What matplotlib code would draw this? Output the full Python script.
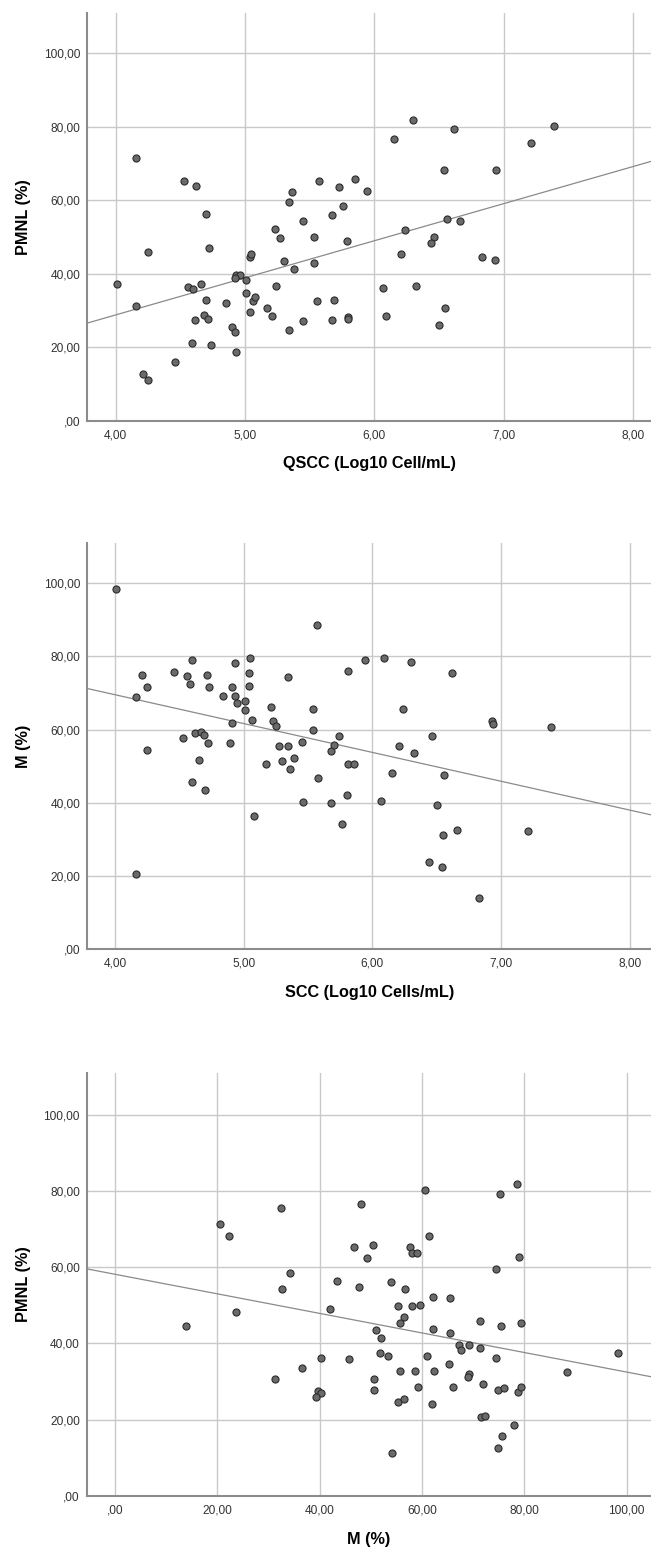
import numpy as np
import matplotlib
matplotlib.use("Agg")
import matplotlib.pyplot as plt

plt.rcParams['font.family'] = ['Liberation Sans', 'DejaVu Sans']

# Panel 1: QSCC vs PMNL
qscc = [4.16, 4.53, 4.62, 4.70, 4.72, 4.25, 4.01, 4.16, 4.56, 4.60, 4.66, 4.70, 4.68, 4.71,
        4.61, 4.59, 4.74, 4.46, 4.21, 4.25, 4.85, 4.90, 4.92, 4.93, 4.93, 4.96, 4.92, 5.01,
        5.01, 5.06, 5.08, 5.04, 5.04, 5.05, 5.17, 5.21, 5.24, 5.23, 5.27, 5.30, 5.38, 5.34,
        5.36, 5.34, 5.45, 5.45, 5.53, 5.53, 5.57, 5.56, 5.67, 5.67, 5.69, 5.73, 5.76, 5.79,
        5.80, 5.80, 5.85, 5.94, 6.15, 6.30, 6.62, 6.54, 6.94, 7.21, 7.39, 6.56, 6.66, 6.24,
        6.46, 6.44, 6.21, 6.83, 6.93, 6.07, 6.32, 6.55, 6.09, 6.50]
pmnl_1 = [71.4, 65.3, 63.8, 56.4, 47.0, 45.8, 37.3, 31.2, 36.3, 35.9, 37.3, 32.8, 28.7, 27.8,
          27.4, 21.1, 20.6, 15.9, 12.6, 11.2, 32.1, 25.4, 24.1, 18.6, 39.8, 39.6, 38.8, 38.3,
          34.7, 32.7, 33.7, 29.5, 44.5, 45.4, 30.6, 28.6, 36.7, 52.2, 49.8, 43.4, 41.4, 59.5,
          62.3, 24.7, 54.4, 27.1, 50.1, 42.8, 65.2, 32.7, 56.0, 27.5, 32.8, 63.7, 58.5, 49.0,
          28.3, 27.8, 65.8, 62.6, 76.7, 81.9, 79.4, 68.3, 68.3, 75.6, 80.3, 54.9, 54.3, 52.0,
          49.9, 48.3, 45.3, 44.6, 43.7, 36.1, 36.6, 30.7, 28.4, 26.0]

# Panel 2: SCC vs M
scc = [4.01, 4.16, 4.16, 4.21, 4.25, 4.25, 4.46, 4.53, 4.56, 4.60, 4.58, 4.62, 4.60, 4.65,
       4.67, 4.69, 4.72, 4.70, 4.71, 4.73, 4.84, 4.91, 4.93, 4.93, 4.95, 4.91, 4.89, 5.01,
       5.01, 5.04, 5.04, 5.05, 5.06, 5.08, 5.17, 5.21, 5.23, 5.25, 5.27, 5.30, 5.34, 5.34,
       5.36, 5.39, 5.45, 5.46, 5.54, 5.54, 5.57, 5.58, 5.68, 5.70, 5.68, 5.74, 5.76, 5.80,
       5.81, 5.81, 5.86, 5.94, 6.09, 6.30, 6.62, 6.24, 6.93, 6.94, 7.39, 6.46, 6.21, 6.32,
       6.15, 6.56, 6.07, 6.50, 6.55, 6.66, 7.21, 6.44, 6.54, 6.83]
m_2 = [98.4, 20.6, 69.0, 74.8, 71.5, 54.3, 75.7, 57.7, 74.5, 78.9, 72.4, 59.0, 45.7, 51.8,
       59.4, 58.6, 56.4, 43.5, 74.9, 71.5, 69.2, 71.5, 78.1, 69.2, 67.3, 61.9, 56.4, 67.7,
       65.3, 75.4, 72.0, 79.5, 62.5, 36.5, 50.7, 66.2, 62.3, 60.9, 55.5, 51.3, 55.5, 74.4,
       49.3, 52.1, 56.7, 40.3, 65.5, 59.8, 88.4, 46.7, 54.0, 55.7, 39.9, 58.2, 34.3, 42.1,
       76.1, 50.7, 50.5, 79.0, 79.5, 78.5, 75.3, 65.5, 62.2, 61.4, 60.6, 58.3, 55.6, 53.5,
       48.2, 47.5, 40.4, 39.4, 31.3, 32.6, 32.4, 23.7, 22.4, 13.9]

# Panel 3: M vs PMNL
m_3 = [13.9, 20.6, 22.3, 23.7, 32.4, 32.6, 34.2, 31.2, 36.5, 40.3, 39.7, 40.2, 39.3, 42.0,
       43.3, 45.7, 46.7, 48.1, 50.4, 49.2, 47.6, 53.9, 56.7, 51.1, 52.0, 51.8, 53.4, 50.7,
       50.6, 54.2, 55.4, 58.1, 59.7, 56.4, 55.6, 57.7, 58.0, 59.0, 60.6, 61.3, 62.1, 62.1,
       60.9, 55.6, 58.6, 62.3, 59.3, 55.4, 56.4, 61.9, 65.5, 65.5, 65.3, 66.1, 67.2, 67.7,
       69.2, 69.1, 68.9, 71.3, 71.3, 74.4, 74.4, 71.9, 74.8, 76.0, 71.5, 72.4, 75.2, 75.4,
       78.5, 78.9, 79.3, 78.8, 79.3, 78.0, 75.6, 74.8, 88.3, 98.3]
pmnl_3 = [44.6, 71.4, 68.3, 48.3, 75.5, 54.2, 58.5, 30.7, 33.6, 36.2, 27.6, 27.1, 25.9, 49.0,
          56.4, 35.9, 65.2, 76.7, 65.8, 62.4, 54.8, 56.1, 54.4, 43.5, 41.5, 37.4, 36.7, 30.7,
          27.8, 11.2, 49.8, 49.8, 50.0, 47.0, 45.3, 65.3, 63.8, 63.8, 80.3, 68.3, 52.2, 43.7,
          36.7, 32.8, 32.8, 32.8, 28.7, 24.7, 25.4, 24.2, 52.0, 42.7, 34.7, 28.6, 39.7, 38.3,
          39.7, 32.1, 31.3, 45.8, 38.8, 59.5, 36.3, 29.5, 27.8, 28.2, 20.6, 21.0, 79.3, 44.5,
          81.9, 62.6, 45.4, 27.3, 28.5, 18.6, 15.8, 12.7, 32.6, 37.4]

x_labels = ["QSCC (Log10 Cell/mL)", "SCC (Log10 Cells/mL)", "M (%)"]
y_labels = ["PMNL (%)", "M (%)", "PMNL (%)"]
x_ticks_1 = [4, 5, 6, 7, 8]
x_ticks_3 = [0, 20, 40, 60, 80, 100]
y_ticks = [0, 20, 40, 60, 80, 100]


def fmt(v):
    s = f"{v:.2f}".replace(".", ",")
    if s.startswith("0,"):
        s = s[1:]
    return s


W, H = 651, 1548
fig = plt.figure(figsize=(W / 100, H / 100), dpi=100)
fig.patch.set_facecolor("white")


def add_ax(left, top, right, bottom):
    return fig.add_axes([left / W, 1 - bottom / H, (right - left) / W, (bottom - top) / H])


panels = [
    dict(box=(87.3, 13.0, 651, 420.7), x=qscc, y=pmnl_1, xlim=(3.78, 8.14), xt=x_ticks_1),
    dict(box=(87.3, 542.7, 651, 949.3), x=scc, y=m_2, xlim=(3.783, 8.166), xt=x_ticks_1),
    dict(box=(86.7, 1072.7, 651, 1496.0), x=m_3, y=pmnl_3, xlim=(-5.53, 104.75), xt=x_ticks_3),
]

grid_col = "#c9c9c9"
spine_col = "#8c8c8c"

for i, p in enumerate(panels):
    ax = add_ax(*p["box"])
    ax.set_xlim(*p["xlim"])
    ax.set_ylim(0, 111)
    ax.set_xticks(p["xt"])
    ax.set_yticks(y_ticks)
    ax.set_xticklabels([fmt(v) for v in p["xt"]], fontsize=8.6, color="#333333")
    ax.set_yticklabels([fmt(v) for v in y_ticks], fontsize=8.6, color="#333333")
    ax.tick_params(axis="y", length=0, pad=5)
    ax.tick_params(axis="x", length=0, pad=6)
    ax.grid(True, color=grid_col, linewidth=1.0)
    ax.set_axisbelow(True)
    for s in ["top", "right"]:
        ax.spines[s].set_visible(False)
    for s in ["left", "bottom"]:
        ax.spines[s].set_color(spine_col)
        ax.spines[s].set_linewidth(1.5)
    xs = np.array(p["x"])
    ys = np.array(p["y"])
    b, a = np.polyfit(xs, ys, 1)
    xl = np.array(p["xlim"])
    ax.plot(xl, a + b * xl, color="#8a8a8a", linewidth=0.9, zorder=2)
    ax.scatter(xs, ys, s=26, facecolor="#6a6a6a", edgecolor="#2b2b2b", linewidth=0.8, zorder=3)
    ax.set_xlabel(x_labels[i], fontsize=11.7, fontweight="bold", labelpad=11)
    ax.set_ylabel(y_labels[i], fontsize=11.7, fontweight="bold", labelpad=9)

fig.savefig("out.png", dpi=100, facecolor="white")
